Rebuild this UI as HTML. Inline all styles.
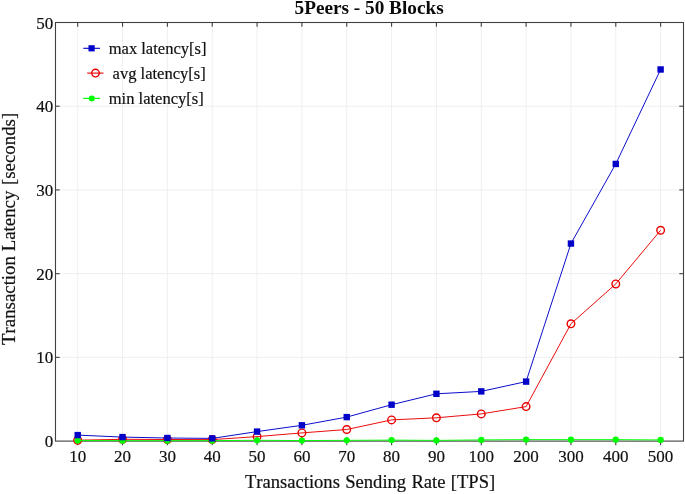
<!DOCTYPE html>
<html lang="en"><head><meta charset="utf-8"><title>5Peers - 50 Blocks</title>
<style>html,body{margin:0;padding:0;background:#fff;overflow:hidden}svg{display:block;will-change:transform;opacity:.999}text{font-family:"Liberation Serif","Times New Roman",Times,serif;fill:#111;stroke:#111;stroke-width:.2px;font-kerning:none;font-feature-settings:"kern" 0,"liga" 0}</style></head><body>
<svg width="685" height="494" viewBox="0 0 685 494">
<rect width="685" height="494" fill="#fff"/>
<g stroke="#efefef" stroke-width="1" fill="none">
<line x1="77.7" y1="22.5" x2="77.7" y2="441.1"/>
<line x1="122.54" y1="22.5" x2="122.54" y2="441.1"/>
<line x1="167.38" y1="22.5" x2="167.38" y2="441.1"/>
<line x1="212.22" y1="22.5" x2="212.22" y2="441.1"/>
<line x1="257.06" y1="22.5" x2="257.06" y2="441.1"/>
<line x1="301.9" y1="22.5" x2="301.9" y2="441.1"/>
<line x1="346.74" y1="22.5" x2="346.74" y2="441.1"/>
<line x1="391.58" y1="22.5" x2="391.58" y2="441.1"/>
<line x1="436.42" y1="22.5" x2="436.42" y2="441.1"/>
<line x1="481.26" y1="22.5" x2="481.26" y2="441.1"/>
<line x1="526.1" y1="22.5" x2="526.1" y2="441.1"/>
<line x1="570.94" y1="22.5" x2="570.94" y2="441.1"/>
<line x1="615.78" y1="22.5" x2="615.78" y2="441.1"/>
<line x1="660.62" y1="22.5" x2="660.62" y2="441.1"/>
<line x1="55.5" y1="357.38" x2="683.5" y2="357.38"/>
<line x1="55.5" y1="273.66" x2="683.5" y2="273.66"/>
<line x1="55.5" y1="189.94" x2="683.5" y2="189.94"/>
<line x1="55.5" y1="106.22" x2="683.5" y2="106.22"/>
</g>
<g stroke="#404040" stroke-width="1.1" fill="none">
<rect x="55.5" y="22.5" width="628" height="418.6"/>
<line x1="77.7" y1="22.5" x2="77.7" y2="26.7"/>
<line x1="77.7" y1="436.9" x2="77.7" y2="445.3"/>
<line x1="122.54" y1="22.5" x2="122.54" y2="26.7"/>
<line x1="122.54" y1="436.9" x2="122.54" y2="445.3"/>
<line x1="167.38" y1="22.5" x2="167.38" y2="26.7"/>
<line x1="167.38" y1="436.9" x2="167.38" y2="445.3"/>
<line x1="212.22" y1="22.5" x2="212.22" y2="26.7"/>
<line x1="212.22" y1="436.9" x2="212.22" y2="445.3"/>
<line x1="257.06" y1="22.5" x2="257.06" y2="26.7"/>
<line x1="257.06" y1="436.9" x2="257.06" y2="445.3"/>
<line x1="301.9" y1="22.5" x2="301.9" y2="26.7"/>
<line x1="301.9" y1="436.9" x2="301.9" y2="445.3"/>
<line x1="346.74" y1="22.5" x2="346.74" y2="26.7"/>
<line x1="346.74" y1="436.9" x2="346.74" y2="445.3"/>
<line x1="391.58" y1="22.5" x2="391.58" y2="26.7"/>
<line x1="391.58" y1="436.9" x2="391.58" y2="445.3"/>
<line x1="436.42" y1="22.5" x2="436.42" y2="26.7"/>
<line x1="436.42" y1="436.9" x2="436.42" y2="445.3"/>
<line x1="481.26" y1="22.5" x2="481.26" y2="26.7"/>
<line x1="481.26" y1="436.9" x2="481.26" y2="445.3"/>
<line x1="526.1" y1="22.5" x2="526.1" y2="26.7"/>
<line x1="526.1" y1="436.9" x2="526.1" y2="445.3"/>
<line x1="570.94" y1="22.5" x2="570.94" y2="26.7"/>
<line x1="570.94" y1="436.9" x2="570.94" y2="445.3"/>
<line x1="615.78" y1="22.5" x2="615.78" y2="26.7"/>
<line x1="615.78" y1="436.9" x2="615.78" y2="445.3"/>
<line x1="660.62" y1="22.5" x2="660.62" y2="26.7"/>
<line x1="660.62" y1="436.9" x2="660.62" y2="445.3"/>
<line x1="55.5" y1="357.38" x2="59.7" y2="357.38"/>
<line x1="683.5" y1="357.38" x2="679.3" y2="357.38"/>
<line x1="55.5" y1="273.66" x2="59.7" y2="273.66"/>
<line x1="683.5" y1="273.66" x2="679.3" y2="273.66"/>
<line x1="55.5" y1="189.94" x2="59.7" y2="189.94"/>
<line x1="683.5" y1="189.94" x2="679.3" y2="189.94"/>
<line x1="55.5" y1="106.22" x2="59.7" y2="106.22"/>
<line x1="683.5" y1="106.22" x2="679.3" y2="106.22"/>
</g>
<polyline points="77.7,440.2 122.54,439.3 167.38,439.5 212.22,439.6 257.06,436.6 301.9,432.9 346.74,429.5 391.58,419.9 436.42,417.8 481.26,413.9 526.1,406.6 570.94,323.8 615.78,283.95 660.62,230.26" fill="none" stroke="#ea0000" stroke-width="0.95" stroke-linejoin="round"/>
<g fill="none" stroke="#ea0000" stroke-width="1.4">
<circle cx="77.7" cy="440.2" r="3.8"/>
<circle cx="122.54" cy="439.3" r="3.8"/>
<circle cx="167.38" cy="439.5" r="3.8"/>
<circle cx="212.22" cy="439.6" r="3.8"/>
<circle cx="257.06" cy="436.6" r="3.8"/>
<circle cx="301.9" cy="432.9" r="3.8"/>
<circle cx="346.74" cy="429.5" r="3.8"/>
<circle cx="391.58" cy="419.9" r="3.8"/>
<circle cx="436.42" cy="417.8" r="3.8"/>
<circle cx="481.26" cy="413.9" r="3.8"/>
<circle cx="526.1" cy="406.6" r="3.8"/>
<circle cx="570.94" cy="323.8" r="3.8"/>
<circle cx="615.78" cy="283.95" r="3.8"/>
<circle cx="660.62" cy="230.26" r="3.8"/>
</g>
<polyline points="77.7,440.5 122.54,440.65 167.38,440.65 212.22,440.65 257.06,440.3 301.9,440.55 346.74,440.35 391.58,440.1 436.42,440.4 481.26,439.9 526.1,439.6 570.94,439.63 615.78,439.63 660.62,439.92" fill="none" stroke="#00ff00" stroke-width="0.95" stroke-linejoin="round"/>
<g fill="#00ff00">
<circle cx="77.7" cy="440.5" r="3.15"/>
<circle cx="122.54" cy="440.65" r="3.15"/>
<circle cx="167.38" cy="440.65" r="3.15"/>
<circle cx="212.22" cy="440.65" r="3.15"/>
<circle cx="257.06" cy="440.3" r="3.15"/>
<circle cx="301.9" cy="440.55" r="3.15"/>
<circle cx="346.74" cy="440.35" r="3.15"/>
<circle cx="391.58" cy="440.1" r="3.15"/>
<circle cx="436.42" cy="440.4" r="3.15"/>
<circle cx="481.26" cy="439.9" r="3.15"/>
<circle cx="526.1" cy="439.6" r="3.15"/>
<circle cx="570.94" cy="439.63" r="3.15"/>
<circle cx="615.78" cy="439.63" r="3.15"/>
<circle cx="660.62" cy="439.92" r="3.15"/>
</g>
<polyline points="77.7,435.1 122.54,437.1 167.38,438 212.22,438.4 257.06,431.6 301.9,425.3 346.74,417.1 391.58,404.7 436.42,393.8 481.26,391.4 526.1,381.6 570.94,243.55 615.78,163.95 660.62,69.47" fill="none" stroke="#0000c8" stroke-width="0.95" stroke-linejoin="round"/>
<g fill="#0000c8">
<rect x="74.5" y="431.9" width="6.4" height="6.4"/>
<rect x="119.34" y="433.9" width="6.4" height="6.4"/>
<rect x="164.18" y="434.8" width="6.4" height="6.4"/>
<rect x="209.02" y="435.2" width="6.4" height="6.4"/>
<rect x="253.86" y="428.4" width="6.4" height="6.4"/>
<rect x="298.7" y="422.1" width="6.4" height="6.4"/>
<rect x="343.54" y="413.9" width="6.4" height="6.4"/>
<rect x="388.38" y="401.5" width="6.4" height="6.4"/>
<rect x="433.22" y="390.6" width="6.4" height="6.4"/>
<rect x="478.06" y="388.2" width="6.4" height="6.4"/>
<rect x="522.9" y="378.4" width="6.4" height="6.4"/>
<rect x="567.74" y="240.35" width="6.4" height="6.4"/>
<rect x="612.58" y="160.75" width="6.4" height="6.4"/>
<rect x="657.42" y="66.27" width="6.4" height="6.4"/>
</g>
<g>
<line x1="83.3" y1="48.3" x2="100" y2="48.3" stroke="#0000c8" stroke-width="1.1"/>
<rect x="88.5" y="45.2" width="6.2" height="6.2" fill="#0000c8"/>
<line x1="87.2" y1="73.1" x2="103.5" y2="73.1" stroke="#ea0000" stroke-width="1.1"/>
<circle cx="95.5" cy="73.1" r="3.8" fill="none" stroke="#ea0000" stroke-width="1.4"/>
<line x1="83.3" y1="98.4" x2="100" y2="98.4" stroke="#00ff00" stroke-width="1.2"/>
<circle cx="91.7" cy="98.4" r="3" fill="#00ff00"/>
<text id="lg1" x="108.7" y="53.7" font-size="16.55">max latency[s]</text>
<text id="lg2" x="112.6" y="78.5" font-size="16.55">avg latency[s]</text>
<text id="lg3" x="108.7" y="103.8" font-size="16.55">min latency[s]</text>
</g>
<g font-size="17" text-anchor="middle" transform="scale(1 1.03)">
<text x="77.7" y="448.54">10</text>
<text x="122.54" y="448.54">20</text>
<text x="167.38" y="448.54">30</text>
<text x="212.22" y="448.54">40</text>
<text x="257.06" y="448.54">50</text>
<text x="301.9" y="448.54">60</text>
<text x="346.74" y="448.54">70</text>
<text x="391.58" y="448.54">80</text>
<text x="436.42" y="448.54">90</text>
<text x="481.26" y="448.54">100</text>
<text x="526.1" y="448.54">200</text>
<text x="570.94" y="448.54">300</text>
<text x="615.78" y="448.54">400</text>
<text x="660.62" y="448.54">500</text>
</g>
<g font-size="17" text-anchor="end" transform="scale(1 1.03)">
<text x="53.3" y="434.17">0</text>
<text x="53.3" y="352.89">10</text>
<text x="53.3" y="271.61">20</text>
<text x="53.3" y="190.33">30</text>
<text x="53.3" y="109.05">40</text>
<text x="53.3" y="27.77">50</text>
</g>
<text id="ttl" x="369.1" y="14.3" font-size="19.25" font-weight="bold" text-anchor="middle" style="stroke:none;fill:#0a0a0a">5Peers - 50 Blocks</text>
<text id="xlab" x="244.9" y="487.6" font-size="18.6" word-spacing="0.65">Transactions Sending Rate [TPS]</text>
<text id="ylab" transform="translate(15.4 345) rotate(-90)" font-size="18.85">Transaction Latency <tspan dx="0.9">[seconds]</tspan></text>
</svg></body></html>
